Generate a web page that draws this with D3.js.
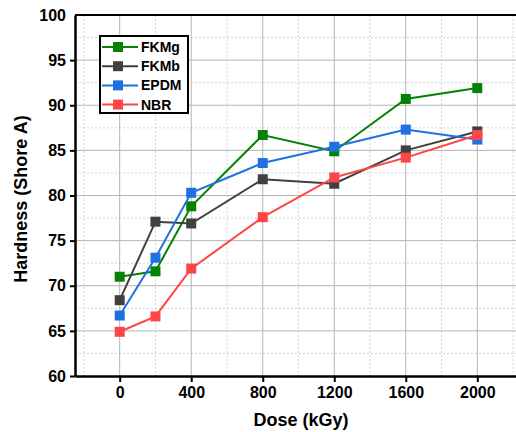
<!DOCTYPE html>
<html>
<head>
<meta charset="utf-8">
<script src="https://cdn.jsdelivr.net/npm/d3@7"></script>
<style>
    body { margin: 0; background: #fff; }
    text { font-family: Arial, "Liberation Sans", sans-serif; font-weight: bold; }
</style>
</head>
<body>
<div id="chart"></div>
<script>
const doses = [0, 200, 400, 800, 1200, 1600, 2000];
const fkmg = [71.0, 71.6, 78.8, 86.7, 84.9, 90.7, 91.9];
const fkmb = [68.4, 77.1, 76.9, 81.8, 81.3, 85.0, 87.1];
const epdm = [66.7, 73.1, 80.3, 83.6, 85.4, 87.3, 86.2];
const nbr = [64.9, 66.6, 71.9, 77.6, 82.0, 84.2, 86.7];
const seriesNames = ['FKMg', 'FKMb', 'EPDM', 'NBR'];
const xTicks = [0, 400, 800, 1200, 1600, 2000];
const yTicks = [60, 65, 70, 75, 80, 85, 90, 95, 100];

const colors = ['#058205', '#404040', '#1f70e0', '#ff4545'];
const seriesValues = [fkmg, fkmb, epdm, nbr];

const width = 516, height = 432;
const plotLeft = 75, plotRight = 522, plotTop = 15, plotBottom = 376;

const svg = d3.select('#chart')
    .append('svg')
    .attr('width', width)
    .attr('height', height);

const x = d3.scaleLinear().domain([-250, 2250]).range([plotLeft, plotRight]);
const y = d3.scaleLinear().domain([60, 100]).range([plotBottom, plotTop]);

// grid: dotted minor lines first, solid major lines on top
let minorX = d3.range(-200, 2250, 400);
let minorY = d3.range(62.5, 100, 5);
svg.append('g').selectAll('line')
    .data(minorX)
    .enter()
    .append('line')
    .attr('x1', d => x(d)).attr('x2', d => x(d))
    .attr('y1', plotTop).attr('y2', plotBottom)
    .attr('stroke', '#d4d4d4')
    .attr('stroke-dasharray', '2,2');
svg.append('g').selectAll('line')
    .data(minorY)
    .enter()
    .append('line')
    .attr('x1', plotLeft).attr('x2', width)
    .attr('y1', d => y(d)).attr('y2', d => y(d))
    .attr('stroke', '#d4d4d4')
    .attr('stroke-dasharray', '2,2');
svg.append('g').selectAll('line')
    .data(xTicks)
    .enter()
    .append('line')
    .attr('x1', d => x(d)).attr('x2', d => x(d))
    .attr('y1', plotTop).attr('y2', plotBottom)
    .attr('stroke', '#b4b4b4');
svg.append('g').selectAll('line')
    .data(yTicks.slice(1, -1))
    .enter()
    .append('line')
    .attr('x1', plotLeft).attr('x2', width)
    .attr('y1', d => y(d)).attr('y2', d => y(d))
    .attr('stroke', '#b4b4b4');

// top border
svg.append('line')
    .attr('x1', plotLeft).attr('x2', width)
    .attr('y1', plotTop).attr('y2', plotTop)
    .attr('stroke', '#000')
    .attr('stroke-width', 2);

// axes
let xAxis = svg.append('g')
    .attr('transform', 'translate(0,' + plotBottom + ')')
    .call(d3.axisBottom(x).tickValues(xTicks).tickFormat(d3.format('d'))
        .tickSize(6).tickPadding(5).tickSizeOuter(0));
let yAxis = svg.append('g')
    .attr('transform', 'translate(' + plotLeft + ',0)')
    .call(d3.axisLeft(y).tickValues(yTicks).tickFormat(d3.format('d'))
        .tickSize(5).tickPadding(4).tickSizeOuter(0));
[xAxis, yAxis].forEach(a => {
    a.select('.domain').attr('stroke', '#000').attr('stroke-width', 2.5);
    a.selectAll('.tick line').attr('stroke', '#000').attr('stroke-width', 2);
    a.selectAll('.tick text')
        .attr('fill', '#000')
        .style('font-size', '16px');
});
yAxis.select('.tick:last-of-type line').remove();

// series
const line = d3.line()
    .x((d, i) => x(doses[i]))
    .y(d => y(d));
const markerSize = 10;
seriesValues.forEach((vals, s) => {
    let g = svg.append('g');
    g.append('path')
        .attr('d', line(vals))
        .attr('fill', 'none')
        .attr('stroke', colors[s])
        .attr('stroke-width', 2);
    g.selectAll('rect')
        .data(vals)
        .enter()
        .append('rect')
        .attr('x', (d, i) => x(doses[i]) - markerSize / 2)
        .attr('y', d => y(d) - markerSize / 2)
        .attr('width', markerSize)
        .attr('height', markerSize)
        .attr('fill', colors[s]);
});

// legend
let legend = svg.append('g');
legend.append('rect')
    .attr('x', 100).attr('y', 36)
    .attr('width', 88).attr('height', 77)
    .attr('fill', '#fff')
    .attr('stroke', '#000')
    .attr('stroke-width', 2);
seriesNames.forEach((name, i) => {
    let cy = 47 + i * 19.2;
    legend.append('line')
        .attr('x1', 102).attr('x2', 138)
        .attr('y1', cy).attr('y2', cy)
        .attr('stroke', colors[i])
        .attr('stroke-width', 2);
    legend.append('rect')
        .attr('x', 118 - markerSize / 2).attr('y', cy - markerSize / 2)
        .attr('width', markerSize).attr('height', markerSize)
        .attr('fill', colors[i]);
    legend.append('text')
        .attr('x', 141).attr('y', cy)
        .attr('dominant-baseline', 'central')
        .style('font-size', '14px')
        .text(name);
});

// axis titles
svg.append('text')
    .attr('x', 301).attr('y', 426)
    .attr('text-anchor', 'middle')
    .style('font-size', '18px')
    .text('Dose (kGy)');
svg.append('text')
    .attr('transform', 'translate(27,199) rotate(-90)')
    .attr('text-anchor', 'middle')
    .style('font-size', '18px')
    .text('Hardness (Shore A)');
</script>
</body>
</html>
